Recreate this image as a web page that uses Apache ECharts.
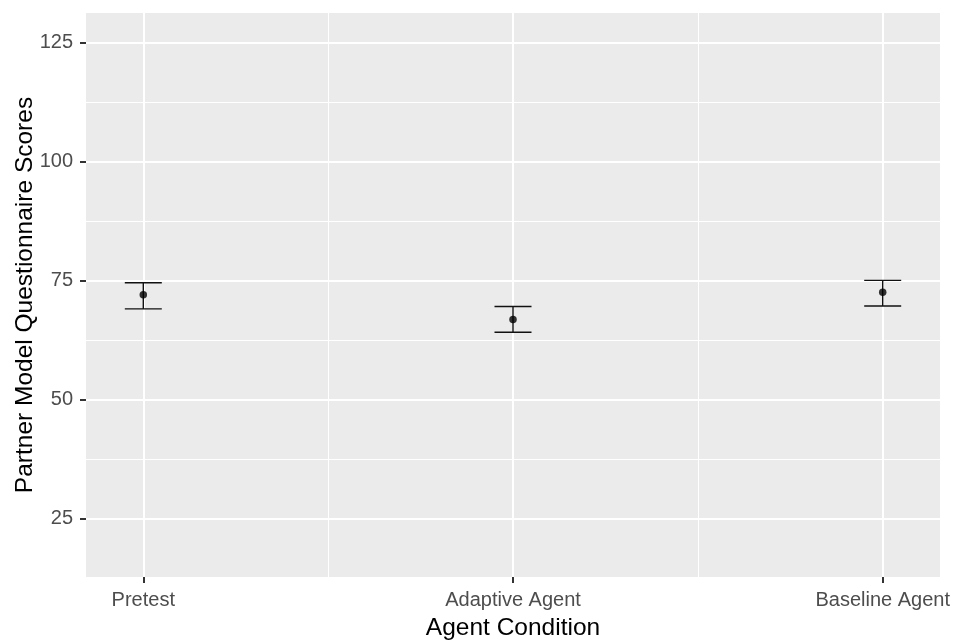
<!DOCTYPE html>
<html>
<head>
<meta charset="utf-8">
<script src="https://cdn.jsdelivr.net/npm/echarts@6/dist/echarts.min.js"></script>
<style>
  html, body { margin: 0; padding: 0; background: #fff; }
  #chart { width: 954px; height: 642px; }
</style>
</head>
<body>
<div id="chart"></div>
<script>
const categories = ['Pretest', 'Adaptive Agent', 'Baseline Agent']
const means = [72.1, 66.9, 72.6]
const lower = [69.1, 64.2, 69.7]
const upper = [74.6, 69.6, 75.1]
const yTicks = [25, 50, 75, 100, 125]
const yMinor = [37.5, 62.5, 87.5, 112.5]
const xMinor = [0.5, 1.5]

const chart = echarts.init(document.getElementById('chart'))

const xIdx = categories.map((_, i) => i)
const meanData = means.map((m, i) => [i, m])
const barData = means.map((_, i) => [i, lower[i], upper[i]])

const major = { color: '#ffffff', width: 2, type: 'solid' }
const minor = { color: '#ffffff', width: 1, type: 'solid' }
const gridLines = [
  ...xIdx.map((v) => ({ xAxis: v, lineStyle: major })),
  ...xMinor.map((v) => ({ xAxis: v, lineStyle: minor })),
  ...yTicks.map((v) => ({ yAxis: v, lineStyle: major })),
  ...yMinor.map((v) => ({ yAxis: v, lineStyle: minor })),
]

const font = 'Liberation Sans, Arial, sans-serif'

chart.setOption({
  animation: false,
  backgroundColor: '#ffffff',
  grid: {
    left: 86, right: 14, top: 13, bottom: 65,
    outerBoundsMode: 'none',
    containLabel: false,
    show: true, backgroundColor: '#EBEBEB', borderWidth: 0,
  },
  xAxis: {
    type: 'value',
    min: -0.155,
    max: 2.155,
    name: 'Agent Condition',
    nameLocation: 'middle',
    nameGap: 39,
    nameMoveOverlap: false,
    nameTextStyle: { color: '#000', fontSize: 24.5, fontFamily: font },
    axisLine: { show: false, onZero: false },
    axisTick: {
      show: true, length: 6, customValues: xIdx,
      lineStyle: { color: '#333333', width: 2 },
    },
    axisLabel: {
      customValues: xIdx,
      margin: 13,
      color: '#4D4D4D',
      fontSize: 20,
      fontFamily: font,
      formatter: (v) => categories[Math.round(v)] || '',
    },
    splitLine: { show: false },
  },
  yAxis: {
    type: 'value',
    min: 12.75,
    max: 131.3,
    name: 'Partner Model Questionnaire Scores',
    nameLocation: 'middle',
    nameGap: 48,
    nameMoveOverlap: false,
    nameRotate: 90,
    nameTextStyle: { color: '#000', fontSize: 24.5, fontFamily: font },
    axisLine: { show: false, onZero: false },
    axisTick: {
      show: true, length: 6, customValues: yTicks,
      lineStyle: { color: '#333333', width: 2 },
    },
    axisLabel: {
      customValues: yTicks,
      margin: 13,
      color: '#4D4D4D',
      fontSize: 20,
      fontFamily: font,
    },
    splitLine: { show: false },
  },
  series: [
    {
      type: 'line',
      data: meanData,
      showSymbol: false,
      lineStyle: { width: 0, opacity: 0 },
      z: 1,
      silent: true,
      markLine: {
        silent: true,
        symbol: ['none', 'none'],
        label: { show: false },
        data: gridLines,
      },
    },
    {
      type: 'custom',
      z: 5,
      data: barData,
      renderItem: (params, api) => {
        const lo = api.coord([api.value(0), api.value(1)])
        const hi = api.coord([api.value(0), api.value(2)])
        const hw = 18.5
        const style = { stroke: '#111111', lineWidth: 1.4 }
        return {
          type: 'group',
          children: [
            { type: 'line', shape: { x1: lo[0], y1: lo[1], x2: hi[0], y2: hi[1] }, style },
            { type: 'line', shape: { x1: lo[0] - hw, y1: lo[1], x2: lo[0] + hw, y2: lo[1] }, style },
            { type: 'line', shape: { x1: hi[0] - hw, y1: hi[1], x2: hi[0] + hw, y2: hi[1] }, style },
          ],
        }
      },
    },
    {
      type: 'scatter',
      z: 6,
      data: meanData,
      symbolSize: 7.5,
      itemStyle: { color: '#000000' },
    },
  ],
})
</script>
</body>
</html>
